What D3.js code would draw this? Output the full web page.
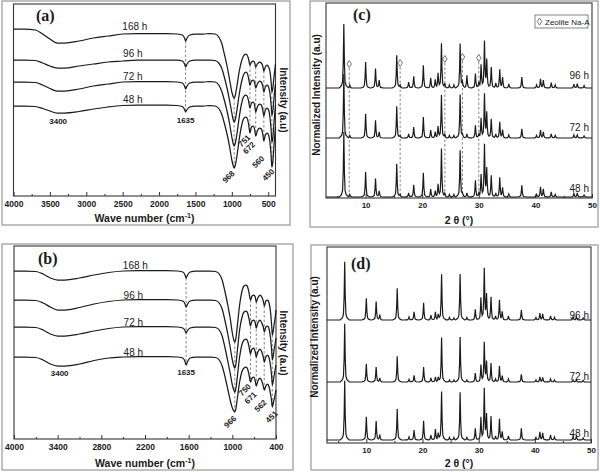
<!DOCTYPE html>
<html><head><meta charset="utf-8">
<script src="https://cdn.jsdelivr.net/npm/d3@7"></script>
<style>body{margin:0;background:#fff}svg{display:block}</style>
</head><body><svg id="chart" width="600" height="472"></svg>
<script>
// ---------------- DATA ----------------
const irWavenumbers = [4000,3850,3700,3600,3500,3400,3300,3100,2900,2700,2500,2300,2100,1900,1750,1680,1650,1635,1615,1580,1500,1400,1300,1230,1180,1140,1100,1060,1030,1000,980,968,955,930,900,870,840,810,790,770,751,730,705,685,672,650,620,595,575,560,540,515,495,475,460,450,440,425,410,400];
const irSeriesNames = ["168 h","96 h","72 h","48 h"];
// panel (a)
const irA168 = [167,167,166,162,157,153,153,155,158,160,162,162.5,162.5,162.5,162,161,158,155,158,161,162,162,162.5,162,159,153,141,128,116,104,99,98,100,110,124,134,140,142,141,137,131,134,135,133,129,132,134,133,130,125,129,131,129,124,114,104,106,116,126,132];
const irA96 = [136,136,135.5,133,130,128,128,130,132,134,135,136,136,136,136,135,132,129,132,135,136,136,136,135.5,133,128,118,106,95,83,76,74,76,86,101,113,121,124,123,118,111,115,116,113,108,112,115,114,110,104,109,111,109,102,91,81,83,94,106,112];
const irA72 = [114,114,113.5,111,107.5,105,105,107,110,112,114,114.5,114.5,114.5,114,113,110,107,110,113,114,114,114.5,114,111,105,95,83,72,59,52,50,52,62,78,91,99,101,100,95,88,93,94,90,84,89,92,91,86,80,86,88,86,78,66,54,56,69,83,91];
const irA48 = [90,90,89.5,87.5,85,83,83,84.5,87,89,90.5,91,91,91,90.5,89.5,86.5,84,86.5,89,90,90,90.5,90,87.5,82,72,60,49,36,30,28,30,40,56,69,77,79,78,72,63,69,70,66,60,65,68,67,62,55,61,63,61,53,40,29,32,46,61,69];
// panel (b)
const irB168 = [168,168,167.5,165,161,159,159,161,164,166.5,168,168.5,168.5,168.5,168,167,164,161,164,167,168,168,168,167.5,165,159,147,133,121,106,99,97,99,114,134,147,153,154,152,146,139,143,144,142,137,141,144,142,138,133,138,139,136,127,114,104,107,115,122,129];
const irB96 = [139,139,138.5,136,132,129,129,131.5,135,137.5,139,139.5,139.5,139.5,139,138,135,132,135,138,139,139,139,138.5,136,130,118,104,92,79,73,71,73,89,109,121,127,128,126,120,113,118,119,116,111,116,119,116,112,107,112,113,110,101,89,79,82,90,96,101];
const irB72 = [112,112,111.5,109,105,103,103,105,108,110.5,112,112.5,112.5,112.5,112,111,108.5,106,108.5,111,112,112,112,111.5,109,103,91,77,66,54,49,47,49,63,82,94,99,100,98,92,85,90,91,87,82,87,90,87,82,77,82,84,81,73,63,54,57,64,70,74];
const irB48 = [82,82,81.5,79,75,73,73,75,78.5,81,82,82.5,82.5,82.5,82,81,77.5,74,77.5,81,82,82,82,81.5,79,73,62,49,39,31,28,27,29,41,57,67,71,72,70,64,57,61,62,58,53,58,61,58,53,49,53,55,52,45,38,32,35,40,45,49];
// IR axis ticks
const irATicks = [4000,3500,3000,2500,2000,1500,1000,500];
const irAMinor = [3750,3250,2750,2250,1750,1250,750];
const irBTicks = [4000,3400,2800,2200,1600,1000,400];
const irBMinor = [3700,3100,2500,1900,1300,700];
// IR band annotations
const irABands = [3400,1635,968,751,672,560,450];
const irBBands = [3400,1635,966,750,671,562,451];

// XRD peaks (2θ, °) and heights (a.u.)
const xrdPeaks = [6.15,7.2,10.0,11.75,12.4,15.5,16.1,17.6,18.5,20.2,21.5,22.3,22.8,23.4,24.0,24.8,25.6,26.7,27.1,27.9,29.4,30.0,30.4,31.0,31.4,32.2,33.0,33.7,34.2,35.3,37.6,40.2,40.9,41.4,42.8,43.5,46.8,47.4,48.6];
const xrdSeriesNames = ["96 h","72 h","48 h"];
const xrdC96 = [64,3,26,19.3,7.7,32.7,2.5,6,11.7,22.7,10.3,8.3,14,44.3,4,3,3,44.3,5,12.7,14.3,5,22.7,46,27.7,21,5,18.3,10.3,4,11,3,9,7.7,5.3,3,3.7,4.3,2.3];
const xrdC72 = [64,2.5,24.3,17.7,6,31.7,2,4,11,21,8,6,11,42.7,3,2.5,2.5,43.3,3,4,12.7,3,19.3,43.3,25,19.3,4,16,8,3,9.3,2.5,7.7,6,4,2.5,3,3,2];
const xrdC48 = [65,2.5,25,18.3,6,33.3,2,4,12.3,24.3,8,6,12,48.3,3,2.5,2.5,46.7,3,4,16.7,3,21.7,51.7,28,21.7,4,19.3,9,3,11.7,2.5,10,8,5,2.5,3.5,4,2];
const xrdCOffsets = [110,60,1];
const xrdD96 = [58.3,0,21.7,18.3,5,31.7,0,3,8.3,17.3,5,8,5,45.7,0,2.5,2,46,0,2.5,10.7,0,21.7,50.7,25,23.3,4,20,8,4,10,2.5,6.7,6,4,2.5,3,3,2];
const xrdD72 = [58.3,0,18.3,15,4,25.7,0,2.5,6.7,15,4,5,4,44.3,0,2,2,45,0,2,9,0,16.7,39,20,19,3,15.7,6,3,7.7,2,5,4.5,3,2,2,2,1.5];
const xrdD48 = [59.3,0,23.3,19,5,31,0,3,10,19.3,5,10.7,6,48.3,0,2.5,2.5,47.7,0,2.5,11.7,0,22.3,50.7,25,24,4,21,8,4,11.7,2.5,8,7,5,3,3.5,3.5,2];
const xrdDOffsets = [123,61,3];
const xrdTicks = [10,20,30,40,50];
const xrdMinor = [5,15,25,35,45];
// zeolite Na-A reflections marked in (c)
const zeoliteA = [7.1,16.1,24.0,27.1,30.0];
const zeoliteAMarkerLevel = [134,135,139,141,140];

// ---------------- DRAWING ----------------
const FONT = "Arial, 'Liberation Sans', Helvetica, sans-serif";
const SERIF = "'Times New Roman', 'Liberation Serif', serif";
const svg = d3.select("#chart");
const INK = "#1a1a1a";

function outerFrame(x,y,w,h){
  svg.append("rect").attr("x",x).attr("y",y).attr("width",w).attr("height",h)
    .attr("fill","none").attr("stroke","#a0a0a0").attr("stroke-width",1.3);
}
function plotFrame(p){
  svg.append("rect").attr("x",p.x0).attr("y",p.y0).attr("width",p.x1-p.x0).attr("height",p.y1-p.y0)
    .attr("fill","none").attr("stroke","#333").attr("stroke-width",1.1);
}
function bottomAxis(p, x, majors, minors, fs){
  const gMin = svg.append("g").attr("transform",`translate(0,${p.y1})`)
    .call(d3.axisBottom(x).tickValues(minors).tickSize(-2).tickFormat(""));
  const gMaj = svg.append("g").attr("transform",`translate(0,${p.y1})`)
    .call(d3.axisBottom(x).tickValues(majors).tickSize(-4).tickPadding(4.5).tickFormat(d3.format("d")));
  [gMin,gMaj].forEach(g=>{
    g.select(".domain").remove();
    g.selectAll("line").attr("stroke","#333");
    g.selectAll("text").attr("font-family",FONT).attr("font-weight","bold").attr("font-size",fs).attr("fill",INK);
  });
}
function panelLabel(t,x,y){
  svg.append("text").attr("x",x).attr("y",y).text(t)
    .attr("font-family",SERIF).attr("font-weight","bold").attr("font-size",16).attr("fill",INK);
}

// ---- IR panels ----
function drawIR(p, series, majors, minors, bands, opts){
  const x = d3.scaleLinear().domain([4000,400]).range([p.x0,p.x1]);
  const y = d3.scaleLinear().domain([0,p.y1-p.y0]).range([p.y1,p.y0]);
  plotFrame(p);
  bottomAxis(p, x, majors, minors, 8.5);
  const nearest = wn => d3.leastIndex(irWavenumbers, (a,b)=>Math.abs(a-wn)-Math.abs(b-wn));
  bands.slice(1).forEach(wn=>{
    const i = nearest(wn);
    svg.append("line").attr("x1",x(wn)).attr("x2",x(wn))
      .attr("y1",y(series[0][i])).attr("y2",y(series[series.length-1][i]))
      .attr("stroke","#777").attr("stroke-width",0.9).attr("stroke-dasharray","2.5,2");
  });
  const line = d3.line().x((d,i)=>x(irWavenumbers[i])).y(d=>y(d)).curve(d3.curveMonotoneX);
  series.forEach(s=>{
    svg.append("path").attr("d",line(s)).attr("fill","none").attr("stroke",INK).attr("stroke-width",1.25);
  });
  const iL = nearest(2350);
  series.forEach((s,k)=>{
    svg.append("text").attr("x",x(2360)+(k===0?2:0)).attr("y",y(s[iL])+opts.labelDy[k])
      .attr("text-anchor","middle").attr("font-family",FONT).attr("font-size",10).attr("fill",INK)
      .text(irSeriesNames[k]);
  });
  const bottom = series[series.length-1];
  bands.forEach((wn,j)=>{
    const i = nearest(wn);
    const [dx,dy] = opts.annot[j];
    const t = svg.append("text").attr("font-family",FONT).attr("font-weight","bold").attr("font-size",8)
      .attr("fill",INK).text(String(wn));
    const ax = x(wn)+dx, ay = y(bottom[i])+dy;
    if (j<2) t.attr("x",ax).attr("y",ay).attr("text-anchor","middle");
    else t.attr("text-anchor","end").attr("transform",`translate(${ax},${ay}) rotate(-45)`);
  });
  const tt = svg.append("text").attr("x",(p.x0+p.x1)/2).attr("y",opts.titleY).attr("text-anchor","middle")
    .attr("font-family",FONT).attr("font-weight","bold").attr("font-size",10.5).attr("fill",INK);
  tt.append("tspan").text("Wave number (cm");
  tt.append("tspan").text("-1").attr("font-size",7).attr("dy",-4);
  tt.append("tspan").text(")").attr("dy",4);
  svg.append("text").attr("transform",`translate(${opts.yTitleX},${opts.yTitleY}) rotate(90)`)
    .attr("text-anchor","middle").attr("font-family",FONT).attr("font-weight","bold").attr("font-size",10)
    .attr("fill",INK).text("Intensity (a.u)");
}

// ---- XRD panels ----
function drawXRD(p, series, offsets, opts){
  const x = d3.scaleLinear().domain([3,50]).range([p.x0,p.x1]);
  const y = d3.scaleLinear().domain([0,p.y1-p.y0]).range([p.y1,p.y0]);
  plotFrame(p);
  bottomAxis(p, x, xrdTicks, xrdMinor, 8);
  const xs = [3,50];
  xrdPeaks.forEach(c=>{[-0.8,-0.4,-0.22,-0.1,0,0.1,0.22,0.4,0.8].forEach(d=>xs.push(c+d));});
  xs.sort((a,b)=>a-b);
  // piecewise peak profile (sharp core with small foot)
  const profile = (d,h)=>{ d=Math.abs(d);
    if(d<0.1) return h*(1-d/0.1*0.6);
    if(d<0.22) return h*(0.4-(d-0.1)/0.12*0.3);
    if(d<0.4) return h*(0.1-(d-0.22)/0.18*0.06);
    if(d<0.8) return h*0.04*(0.8-d)/0.4;
    return 0; };
  const line = d3.line().x(d=>x(d[0])).y(d=>y(d[1]));
  if (opts.zeolite){
    zeoliteA.forEach((a,k)=>{
      const ym = y(zeoliteAMarkerLevel[k]);
      svg.append("line").attr("x1",x(a)).attr("x2",x(a)).attr("y1",ym+4).attr("y2",p.y1)
        .attr("stroke","#777").attr("stroke-width",0.9).attr("stroke-dasharray","2.5,2");
      diamond(x(a), ym);
    });
  }
  series.forEach((h,k)=>{
    const pts = xs.filter(v=>v>=3&&v<=50).map(v=>{
      let s = offsets[k];
      xrdPeaks.forEach((c,i)=>{ if(h[i]>0) s += profile(v-c,h[i]); });
      return [v,s];
    });
    svg.append("path").attr("d",line(pts)).attr("fill","none").attr("stroke",INK).attr("stroke-width",1.2);
    svg.append("text").attr("x",opts.labelX).attr("y",y(offsets[k])+opts.labelDy[k]).attr("text-anchor","end")
      .attr("font-family",FONT).attr("font-size",10).attr("fill",INK).text(xrdSeriesNames[k]);
  });
  svg.append("text").attr("x",(p.x0+p.x1)/2).attr("y",opts.titleY).attr("text-anchor","middle")
    .attr("font-family",FONT).attr("font-weight","bold").attr("font-size",10.5).attr("fill",INK)
    .text("2 θ (°)");
  svg.append("text").attr("transform",`translate(${opts.yTitleX},${opts.yTitleY}) rotate(-90)`)
    .attr("text-anchor","middle").attr("font-family",FONT).attr("font-weight","bold").attr("font-size",10)
    .attr("fill",INK).text("Normalized Intensity (a.u)");
}
function diamond(cx,cy){
  svg.append("path").attr("d",`M${cx},${cy-3.5}L${cx+2.3},${cy}L${cx},${cy+3.5}L${cx-2.3},${cy}Z`)
    .attr("fill","#fff").attr("stroke","#555").attr("stroke-width",0.8);
}

// frames
outerFrame(2,1,288,224);
outerFrame(310,1,288,226);
outerFrame(2,244,291,226);
outerFrame(311,245,287,225);

const pa = {x0:13.5,x1:275.5,y0:4,y1:196};
const pb = {x0:14,x1:276,y0:246,y1:439};
const pc = {x0:326,x1:592,y0:3,y1:198};
const pd = {x0:327,x1:591,y0:247,y1:443};

drawIR(pa,[irA168,irA96,irA72,irA48],irATicks,irAMinor,irABands,{
  labelDy:[-4,-3,-2,-2],
  annot:[[1,11],[0,10.5],[1,6],[1,5],[0,9],[1,18],[3,5]],
  titleY:222, yTitleX:280, yTitleY:100
});
drawIR(pb,[irB168,irB96,irB72,irB48],irBTicks,irBMinor,irBBands,{
  labelDy:[-2,-1,-1,-1],
  annot:[[2,10],[0,10],[2,7],[1,5],[1,9],[3,13],[6,7]],
  titleY:467, yTitleX:280, yTitleY:343
});
drawXRD(pc,[xrdC96,xrdC72,xrdC48],xrdCOffsets,{
  zeolite:true, labelX:589, labelDy:[-9,-7,-5], titleY:224, yTitleX:320, yTitleY:95
});
drawXRD(pd,[xrdD96,xrdD72,xrdD48],xrdDOffsets,{
  zeolite:false, labelX:589, labelDy:[-1,-2,-3], titleY:467, yTitleX:318, yTitleY:337
});

// legend in (c)
svg.append("rect").attr("x",535).attr("y",15).attr("width",53).attr("height",13)
  .attr("fill","#fff").attr("stroke","#666").attr("stroke-width",0.8);
diamond(539.5,21.5);
svg.append("text").attr("x",545).attr("y",24.5).attr("font-family",FONT).attr("font-size",8)
  .attr("fill",INK).text("Zeolite Na-A");

panelLabel("(a)",36,21);
panelLabel("(b)",38,264);
panelLabel("(c)",353,20);
panelLabel("(d)",351,269);
</script>
</body></html>
